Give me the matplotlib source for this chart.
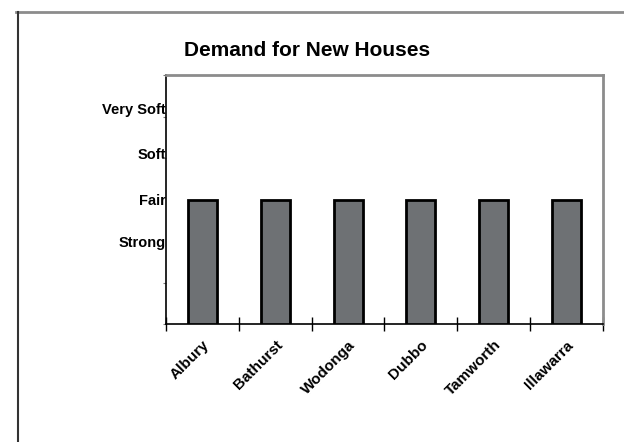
import matplotlib.pyplot as plt
from matplotlib.lines import Line2D

# dati: livello di domanda per citta' (1 = Strong ... 4 = Very Soft)
towns = ["Albury", "Bathurst", "Wodonga", "Dubbo", "Tamworth", "Illawarra"]
demand = [3, 3, 3, 3, 3, 3]
level_labels = ["Strong", "Fair", "Soft", "Very Soft"]
level_pos = [2, 3, 4.1, 5.2]
y_max = 6

plt.rcParams['font.family'] = ['Liberation Sans Narrow', 'Liberation Sans', 'DejaVu Sans']

fig = plt.figure(figsize=(6.24, 4.42), dpi=100)
ax = fig.add_axes([166 / 624, 1 - 324 / 442, (603 - 166) / 624, (324 - 75) / 442])

x = list(range(len(towns)))
ax.bar(x, demand, width=0.4, color="#6e7174", edgecolor="black", linewidth=2, zorder=3)

ax.set_xlim(-0.5, len(towns) - 0.5)
ax.set_ylim(0, y_max)

# tick x tra le categorie
ax.set_xticks([i - 0.5 for i in range(len(towns) + 1)], minor=True)
ax.set_xticks(x)
ax.set_xticklabels(towns, rotation=45, ha="right", rotation_mode="anchor",
                   fontsize=11, fontweight="bold")
ax.tick_params(axis="x", which="major", length=0, pad=10)
ax.tick_params(axis="x", which="minor", length=10, direction="inout", width=1)

ax.set_yticks(range(y_max + 1), minor=True)
ax.set_yticks(level_pos)
ax.set_yticklabels(level_labels, fontsize=10.5, fontweight="bold")
ax.tick_params(axis="y", which="major", length=0, pad=0)
ax.tick_params(axis="y", which="minor", length=2, width=0.8, color="#777777")

for side in ["top", "right"]:
    ax.spines[side].set_color("#8c8c8c")
    ax.spines[side].set_linewidth(2)
for side in ["left", "bottom"]:
    ax.spines[side].set_color("black")
    ax.spines[side].set_linewidth(1.2)

fig.text(307 / 624, 1 - 50 / 442, "Demand for New Houses", ha="center", va="center",
         fontsize=15, fontweight="bold")

# cornice esterna del grafico
fig.add_artist(Line2D([16 / 624, 1], [1 - 12 / 442] * 2, color="#8c8c8c", linewidth=2))
fig.add_artist(Line2D([18 / 624] * 2, [0, 1 - 12 / 442], color="#333333", linewidth=1.5))

fig.savefig("out.png", dpi=100)
